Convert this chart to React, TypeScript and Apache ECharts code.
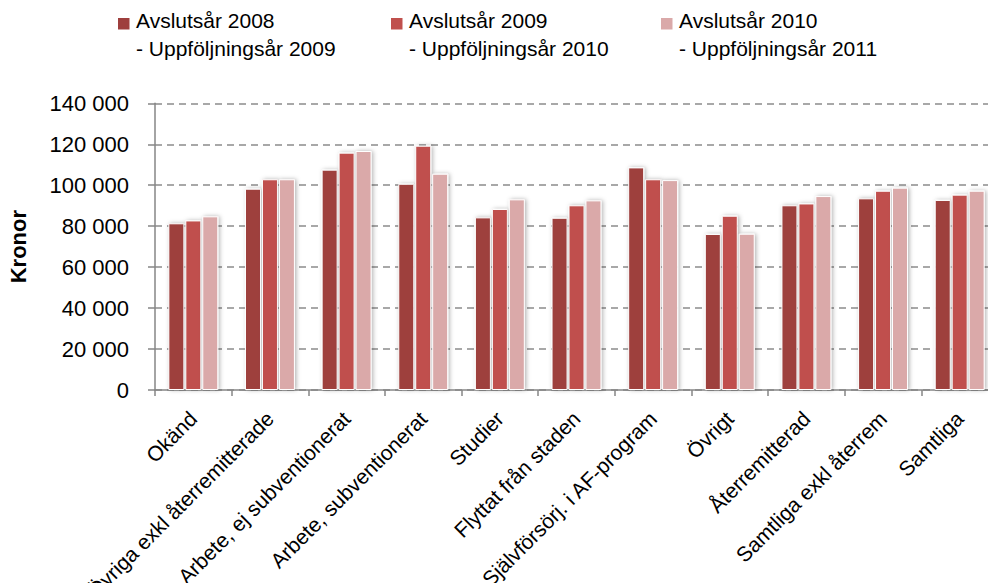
import React, { useEffect, useRef } from "react";
import * as echarts from "echarts";

const CATEGORIES = [
  "Okänd",
  "Övriga exkl återremitterade",
  "Arbete, ej subventionerat",
  "Arbete, subventionerat",
  "Studier",
  "Flyttat från staden",
  "Självförsörj. i AF-program",
  "Övrigt",
  "Återremitterad",
  "Samtliga exkl återrem",
  "Samtliga",
];

const S2008 = [81400, 98300, 107600, 100700, 84300, 84100, 108700, 76200, 90200, 93600, 92800];
const S2009 = [82800, 102900, 115900, 119300, 88400, 90200, 102900, 85100, 91100, 97300, 95400];
const S2010 = [84800, 102900, 116700, 105600, 93100, 92600, 102500, 76300, 94700, 98800, 97300];

const SERIES_DATA = [S2008, S2009, S2010];
const LEGEND_LINE1 = ["Avslutsår 2008", "Avslutsår 2009", "Avslutsår 2010"];
const LEGEND_LINE2 = ["- Uppföljningsår 2009", "- Uppföljningsår 2010", "- Uppföljningsår 2011"];
const COLORS = ["#9E3F3D", "#C0504D", "#DAA9A9"];
const Y_TITLE = "Kronor";

const FONT = "'Liberation Sans', Arial, sans-serif";

export default function App() {
  const ref = useRef<HTMLDivElement>(null);

  useEffect(() => {
    if (!ref.current) return;
    const chart = echarts.init(ref.current, undefined, { renderer: "svg" });

    const legendX = [118, 391, 661];
    const legendGraphics: any[] = [];
    LEGEND_LINE1.forEach((l1, i) => {
      legendGraphics.push({
        type: "rect",
        shape: { x: legendX[i], y: 18, width: 11.5, height: 11.5 },
        style: { fill: COLORS[i] },
      });
      legendGraphics.push({
        type: "text",
        x: legendX[i] + 18,
        y: 7,
        style: {
          text: l1 + "\n" + LEGEND_LINE2[i],
          font: `21px ${FONT}`,
          fill: "#000",
          lineHeight: 27.5,
          verticalAlign: "top",
          align: "left",
        },
      });
    });

    chart.setOption({
      animation: false,
      textStyle: { fontFamily: FONT },
      grid: {
        left: 155,
        right: -10,
        top: 103.3,
        bottom: 193,
        containLabel: false,
        outerBoundsMode: "none",
      },
      graphic: legendGraphics,
      xAxis: {
        type: "category",
        data: CATEGORIES,
        axisLine: { lineStyle: { color: "#868686", width: 1.5 } },
        axisTick: { show: true, length: 6, lineStyle: { color: "#868686", width: 1.5 } },
        axisLabel: {
          interval: 0,
          rotate: 45,
          margin: 25,
          verticalAlign: "middle",
          fontSize: 21,
          fontFamily: FONT,
          color: "#000",
          hideOverlap: false,
        },
      },
      yAxis: {
        type: "value",
        min: 0,
        max: 140000,
        interval: 20000,
        name: Y_TITLE,
        nameLocation: "middle",
        nameRotate: 90,
        nameGap: 126,
        nameTextStyle: { fontSize: 22, fontWeight: "bold", fontFamily: FONT, color: "#000" },
        axisLine: { show: true, lineStyle: { color: "#868686", width: 1.5 } },
        axisTick: { show: true, length: 7, lineStyle: { color: "#868686", width: 1.5 } },
        axisLabel: {
          margin: 26,
          fontSize: 22,
          fontFamily: FONT,
          color: "#000",
          formatter: (v: number) => String(v).replace(/\B(?=(\d{3})+(?!\d))/g, " "),
        },
        splitLine: {
          show: true,
          lineStyle: { color: "#8C8C8C", width: 1.5, type: [7, 5] },
        },
      },
      series: SERIES_DATA.map((d, i) => ({
        type: "bar",
        name: LEGEND_LINE1[i],
        data: d,
        barWidth: 16,
        barGap: "6%",
        itemStyle: {
          color: COLORS[i],
          borderColor: "#ffffff",
          borderWidth: 1,
          shadowBlur: 4,
          shadowColor: "rgba(0,0,0,0.3)",
          shadowOffsetX: 1.5,
          shadowOffsetY: 0,
        },
      })),
    });

    return () => chart.dispose();
  }, []);

  return (
    <div
      ref={ref}
      style={{ position: "absolute", left: 0, top: 0, width: 988, height: 583, background: "#fff" }}
    />
  );
}
